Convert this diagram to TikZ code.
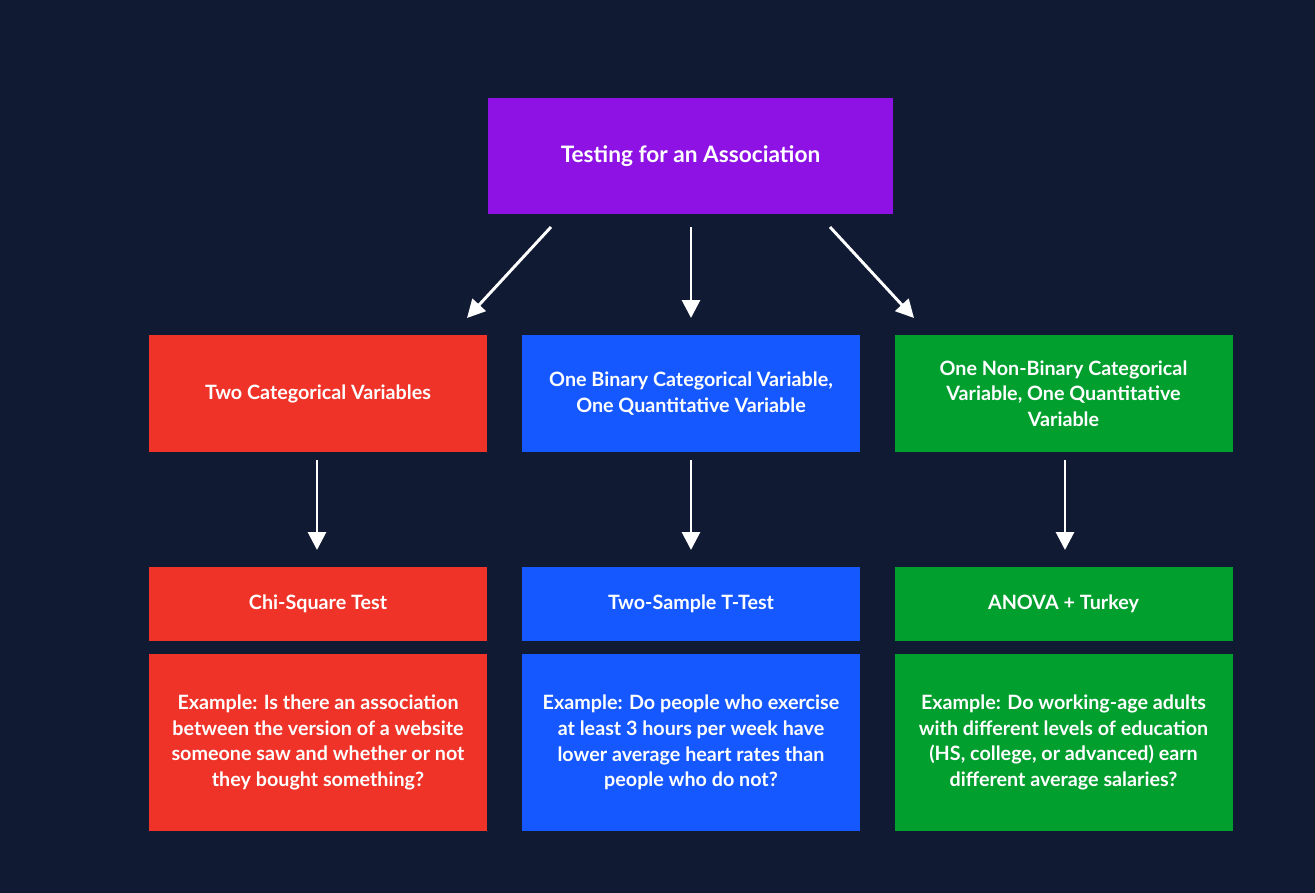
\documentclass[tikz,border=0pt]{standalone}
\usepackage{fontspec}
\setmainfont{Lato}
\usetikzlibrary{arrows.meta}
\definecolor{bg}{HTML}{101A33}
\definecolor{cpurple}{HTML}{8F12E5}
\definecolor{cred}{HTML}{EF3329}
\definecolor{cblue}{HTML}{1558FF}
\definecolor{cgreen}{HTML}{009F2E}
\tikzset{
  box/.style={rectangle, inner sep=0pt, outer sep=0pt, text=white, align=center,
    font=\bfseries\fontsize{14.8pt}{19.3pt}\selectfont},
  row2/.style={box, minimum width=253.5pt, minimum height=87.75pt},
  row3/.style={box, minimum width=253.5pt, minimum height=55.5pt},
  row4/.style={box, minimum width=253.5pt, minimum height=132.75pt},
  conn/.style={white, line width=2.2pt, -{Triangle[length=13.5pt,width=13.5pt]}}
}
\begin{document}
\begin{tikzpicture}[x=0.75pt,y=-0.75pt]
\fill[bg] (0,0) rectangle (1315,893);
\useasboundingbox (0,0) rectangle (1315,893);
\node[box, fill=cpurple, minimum width=303.75pt, minimum height=87pt,
  font=\bfseries\fontsize{17pt}{20pt}\selectfont] (top) at (690.5,156) {Testing for an Association};
\node[row2, fill=cred] (cat) at (318,393.5) {Two Categorical Variables};
\node[row2, fill=cblue] (bin) at (691,393.5) {One Binary Categorical Variable,\\One Quantitative Variable};
\node[row2, fill=cgreen] (non) at (1063.5,393.5) {One Non-Binary Categorical\\Variable, One Quantitative\\Variable};
\node[row3, fill=cred] (chi) at (318,604) {Chi-Square Test};
\node[row3, fill=cblue] (tt) at (691,604) {Two-Sample T-Test};
\node[row3, fill=cgreen] (anova) at (1063.5,604) {ANOVA + Turkey};
\node[row4, fill=cred] (ex1) at (318,742.5) {Example: Is there an association\\between the version of a website\\someone saw and whether or not\\they bought something?};
\node[row4, fill=cblue] (ex2) at (691,742.5) {Example: Do people who exercise\\at least 3 hours per week have\\lower average heart rates than\\people who do not?};
\node[row4, fill=cgreen] (ex3) at (1063.5,742.5) {Example: Do working-age adults\\with different levels of education\\(HS, college, or advanced) earn\\different average salaries?};
% connector end points
\coordinate (s1) at (551,227); \coordinate (e1) at (467,318);
\coordinate (s2) at (691,227); \coordinate (e2) at (691,318);
\coordinate (s3) at (830,227); \coordinate (e3) at (914,318);
\coordinate (s4) at (317,460); \coordinate (e4) at (317,550);
\coordinate (s5) at (691,460); \coordinate (e5) at (691,550);
\coordinate (s6) at (1065,460); \coordinate (e6) at (1065,550);
\draw[conn] (s1) -- (e1);
\draw[conn] (s2) -- (e2);
\draw[conn] (s3) -- (e3);
\draw[conn] (s4) -- (e4);
\draw[conn] (s5) -- (e5);
\draw[conn] (s6) -- (e6);
\end{tikzpicture}
\end{document}
